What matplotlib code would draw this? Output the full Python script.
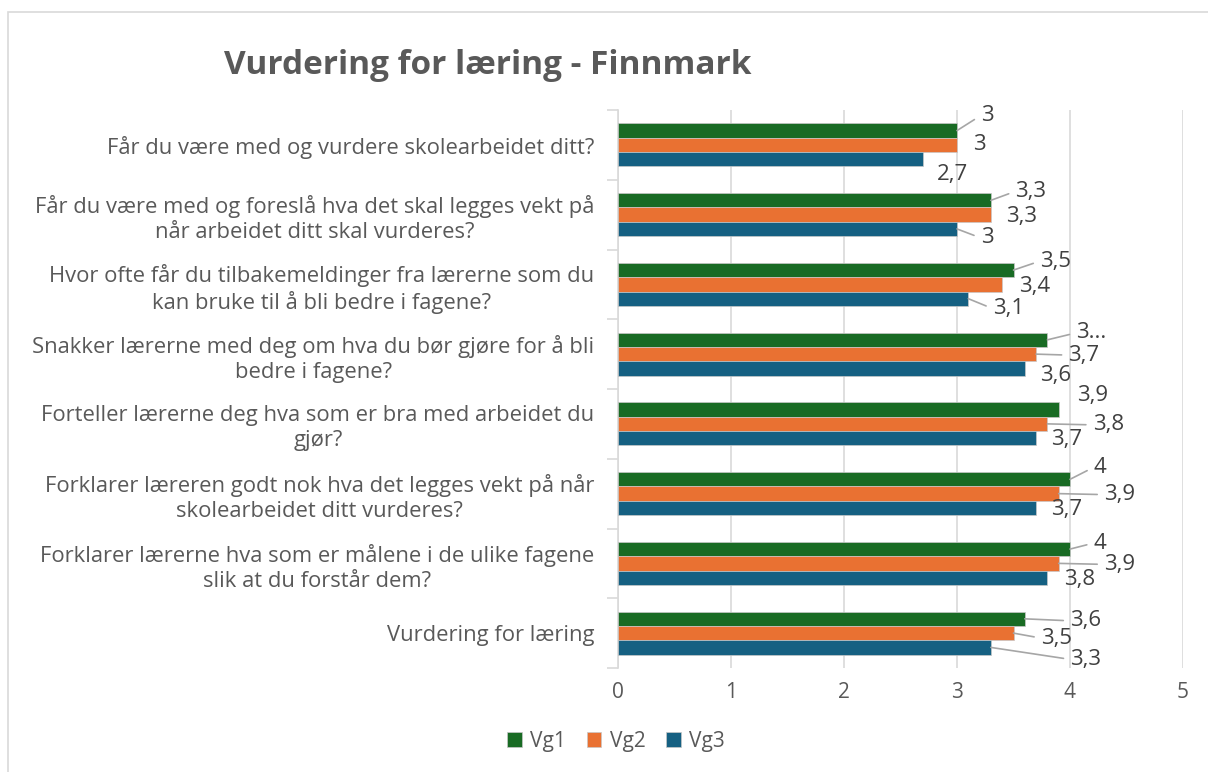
import matplotlib
matplotlib.use("Agg")
import matplotlib.pyplot as plt
import numpy as np
from matplotlib.patches import Rectangle

categories = [
    "Får du være med og vurdere skolearbeidet ditt?",
    "Får du være med og foreslå hva det skal legges vekt på\nnår arbeidet ditt skal vurderes?",
    "Hvor ofte får du tilbakemeldinger fra lærerne som du\nkan bruke til å bli bedre i fagene?",
    "Snakker lærerne med deg om hva du bør gjøre for å bli\nbedre i fagene?",
    "Forteller lærerne deg hva som er bra med arbeidet du\ngjør?",
    "Forklarer læreren godt nok hva det legges vekt på når\nskolearbeidet ditt vurderes?",
    "Forklarer lærerne hva som er målene i de ulike fagene\nslik at du forstår dem?",
    "Vurdering for læring",
]
series_names = ["Vg1", "Vg2", "Vg3"]
vg1 = [3.0, 3.3, 3.5, 3.8, 3.9, 4.0, 4.0, 3.6]
vg2 = [3.0, 3.3, 3.4, 3.7, 3.8, 3.9, 3.9, 3.5]
vg3 = [2.7, 3.0, 3.1, 3.6, 3.7, 3.7, 3.8, 3.3]
xticks = [0, 1, 2, 3, 4, 5]
title = "Vurdering for læring - Finnmark"

colors = ["#196B24", "#E97132", "#156082"]

# label offsets in pixels (dx, dy up-positive) and whether a leader line is drawn
offsets = {
    0: [(30, 15, True), (22, 0, False), (29, -15, False)],
    1: [(40, 9, True), (31, -2, False), (30, -9, True)],
    2: [(42, 9, True), (32, -2, False), (40, -10, True)],
    3: [(44, 7, True), (48, -1, True), (31, -7, False)],
    4: [(34, 14, False), (61, -1, True), (31, -1, False)],
    5: [(30, 12, True), (61, -1, True), (31, -2, False)],
    6: [(30, 6, True), (61, -1, True), (32, -2, False)],
    7: [(61, -2, True), (43, -5, True), (95, -12, True)],
}

plt.rcParams['font.family'] = ['Open Sans', 'DejaVu Sans']
fig = plt.figure(figsize=(12.08, 7.72), dpi=100)
fig.patches.append(Rectangle((8/1208, -0.01), 1.0, 1 - 12/772 + 0.01, transform=fig.transFigure,
                             fill=False, edgecolor="#d9d9d9", linewidth=1.2))

ax = fig.add_axes([618/1208, 1 - 668/772, (1183 - 618)/1208, (668 - 110)/772])
n = len(categories)
y = np.arange(n)
h = 0.205
all_vals = [vg1, vg2, vg3]
for i, (vals, c, name) in enumerate(zip(all_vals, colors, series_names)):
    ax.barh(y + (i - 1) * h, vals, height=h, color=c, label=name,
            edgecolor="#c8c8c8", linewidth=0.5, zorder=3)

ax.set_ylim(n - 0.5, -0.5)
ax.set_xlim(0, 5)
ax.set_xticks(xticks)
ax.set_xticklabels([str(t) for t in xticks])
ax.set_yticks(y)
ax.set_yticklabels(categories, multialignment="center", linespacing=1.25)
ax.set_yticks(np.arange(n + 1) - 0.5, minor=True)
ax.tick_params(axis="y", which="major", length=0, pad=17, labelsize=15.8, labelcolor="#595959")
ax.tick_params(axis="y", which="minor", length=8, color="#d9d9d9", width=1.2)
ax.tick_params(axis="x", length=0, pad=10, labelsize=15, labelcolor="#595959")
ax.grid(axis="x", color="#d9d9d9", linewidth=1.2, zorder=0)
for s in ["top", "right", "bottom"]:
    ax.spines[s].set_visible(False)
ax.spines["left"].set_color("#d9d9d9")
ax.spines["left"].set_linewidth(1.2)

for gi in range(n):
    for si in range(3):
        v = all_vals[si][gi]
        txt = f"{v:g}".replace(".", ",")
        if gi == 3 and si == 0:
            txt = "3..."
        dx, dy, leader = offsets[gi][si]
        yy = gi + (si - 1) * h
        kw = {}
        if leader:
            kw["arrowprops"] = dict(arrowstyle="-", color="#a6a6a6", lw=1.2,
                                    shrinkA=3, shrinkB=0, relpos=(0, 0.5))
        ax.annotate(txt, xy=(v, yy), xytext=(dx, dy), textcoords="offset pixels",
                    ha="center", va="center", fontsize=16, color="#404040",
                    annotation_clip=False, **kw)

fig.text(488/1208, 1 - 65/772, title, ha="center", va="center", fontsize=24,
         fontweight="bold", color="#595959")

leg = fig.legend(loc="center", bbox_to_anchor=(616/1208, 1 - 741/772), ncol=3,
                 frameon=False, fontsize=15, handlelength=0.7, handleheight=0.7,
                 handletextpad=0.4, columnspacing=1.0, labelcolor="#595959")

fig.savefig("out.png", dpi=100)
